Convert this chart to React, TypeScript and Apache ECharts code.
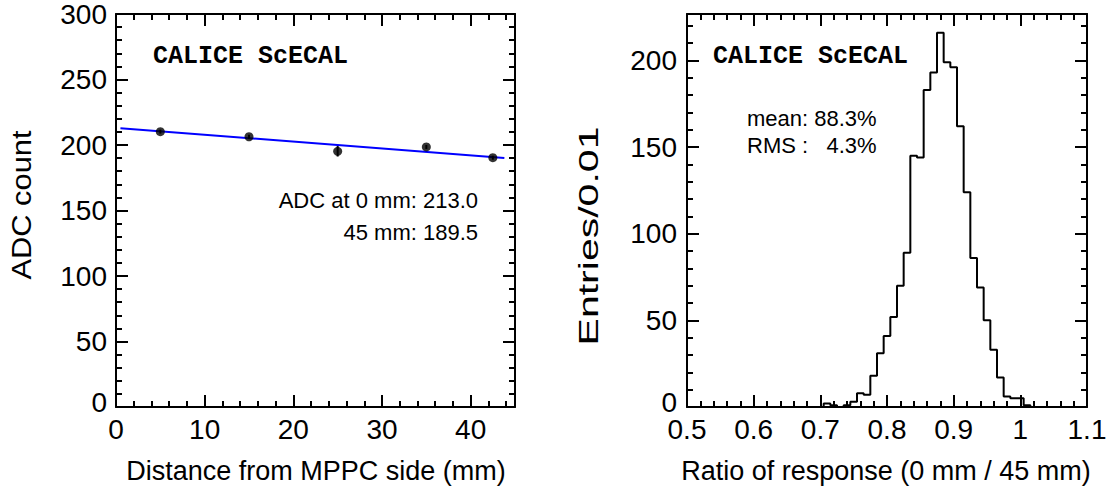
import React, { useEffect, useRef } from "react";
import * as echarts from "echarts";

// ---------- Data ----------
// Left panel: ADC count vs distance from MPPC side
const distances = [5, 15, 25, 35, 42.5];
const adcValues = [210.2, 206.3, 195.2, 198.5, 190.3];
const adcErrors = [1.5, 1.5, 4, 1.5, 1.5];
// Linear fit (from annotation): ADC at 0 mm = 213.0, at 45 mm = 189.5
const fitAt0 = 213.0;
const fitAt45 = 189.5;
const fitRange = [0.5, 43.8];

// Right panel: histogram of ratio of response, bins of 0.01 centred on these values
const ratioCenters = [0.70, 0.71, 0.72, 0.73, 0.74, 0.75, 0.76, 0.77, 0.78, 0.79, 0.80, 0.81, 0.82, 0.83, 0.84, 0.85, 0.86, 0.87, 0.88, 0.89, 0.90, 0.91, 0.92, 0.93, 0.94, 0.95, 0.96, 0.97, 0.98, 0.99, 1.00, 1.01, 1.02];
const ratioCounts = [0, 2, 1, 0, 1, 3, 8, 7, 18, 31, 41, 52, 70, 89, 145, 144, 183, 193, 216, 199, 196, 162, 124, 86, 69, 50, 33, 17, 6, 5, 5, 1, 0];
const binWidth = 0.01;

// Tick values
const leftXMajor = [0, 10, 20, 30, 40];
const leftXMinor = [2, 4, 6, 8, 12, 14, 16, 18, 22, 24, 26, 28, 32, 34, 36, 38, 42, 44];
const leftYMajor = [0, 50, 100, 150, 200, 250, 300];
const leftYMinor = [10, 20, 30, 40, 60, 70, 80, 90, 110, 120, 130, 140, 160, 170, 180, 190, 210, 220, 230, 240, 260, 270, 280, 290];
const rightXMajor = [0.5, 0.6, 0.7, 0.8, 0.9, 1, 1.1];
const rightXMinor = [0.52, 0.54, 0.56, 0.58, 0.62, 0.64, 0.66, 0.68, 0.72, 0.74, 0.76, 0.78, 0.82, 0.84, 0.86, 0.88, 0.92, 0.94, 0.96, 0.98, 1.02, 1.04, 1.06, 1.08];
const rightYMajor = [0, 50, 100, 150, 200];
const rightYMinor = [10, 20, 30, 40, 60, 70, 80, 90, 110, 120, 130, 140, 160, 170, 180, 190, 210, 220];

const FONT = '"Liberation Sans", Arial, Helvetica, sans-serif';
const MONO = '"Liberation Mono", "Courier New", monospace';

function makeAxes(
  kind: "x" | "y",
  gridIndex: number,
  min: number,
  max: number,
  major: number[],
  minor: number[],
  labelMargin: number
) {
  const posA = kind === "x" ? "bottom" : "left";
  const posB = kind === "x" ? "top" : "right";
  const base = (position: string, ticks: number[], len: number, showLine: boolean, showLabel: boolean) => ({
    type: "value",
    gridIndex,
    min,
    max,
    position,
    axisLine: { show: showLine, onZero: false, lineStyle: { color: "#000", width: 2 } },
    axisTick: { show: true, inside: true, length: len, customValues: ticks, lineStyle: { color: "#000", width: 2 } },
    axisLabel: {
      show: showLabel,
      customValues: major,
      margin: labelMargin,
      color: "#000",
      fontFamily: FONT,
      fontSize: 28,
      formatter:
        kind === "y"
          ? (v: number) => (v === 0 ? "{z|0}" : String(v))
          : (v: number) => String(v),
      rich: {
        z: { fontFamily: FONT, fontSize: 28, color: "#000", padding: [0, 0, 10, 0] },
      },
    },
    splitLine: { show: false },
    minorTick: { show: false },
  });
  return [
    base(posA, major, 12, true, true),
    base(posA, minor, 6, false, false),
    base(posB, major, 12, true, false),
    base(posB, minor, 6, false, false),
  ];
}

export default function App() {
  const ref = useRef<HTMLDivElement>(null);

  useEffect(() => {
    if (!ref.current) return;
    const chart = echarts.init(ref.current, undefined, { renderer: "svg" });

    const slope = (fitAt45 - fitAt0) / 45;
    const fitData = fitRange.map((x) => [x, fitAt0 + slope * x]);
    const scatterData = distances.map((d, i) => [d, adcValues[i]]);
    const errData = distances.map((d, i) => [d, adcValues[i], adcErrors[i]]);

    const histData: number[][] = ratioCenters.map((c, i) => [c - binWidth / 2, ratioCounts[i]]);
    const lastC = ratioCenters[ratioCenters.length - 1];
    histData.push([lastC + binWidth / 2, ratioCounts[ratioCounts.length - 1]]);

    const xAxes = [
      ...makeAxes("x", 0, 0, 45, leftXMajor, leftXMinor, 8),
      ...makeAxes("x", 1, 0.5, 1.1, rightXMajor, rightXMinor, 8),
    ];
    const yAxes = [
      ...makeAxes("y", 0, 0, 300, leftYMajor, leftYMinor, 9),
      ...makeAxes("y", 1, 0, 226.8, rightYMajor, rightYMinor, 10),
    ];

    const txt = (text: string, x: number, y: number, size: number, align: string, extra: any = {}) => {
      const { bold, mono, ...rest } = extra;
      return {
        type: "text",
        x,
        y,
        ...rest,
        style: {
          text,
          fill: "#000",
          font: `${bold ? "bold " : ""}${size}px ${mono ? MONO : FONT}`,
          align,
          verticalAlign: "middle",
        },
      };
    };

    chart.setOption({
      animation: false,
      backgroundColor: "#fff",
      grid: [
        { left: 116, top: 14, width: 399, height: 393, containLabel: false },
        { left: 687, top: 14, width: 400, height: 393, containLabel: false },
      ],
      xAxis: xAxes,
      yAxis: yAxes,
      series: [
        {
          type: "line",
          name: "fit",
          xAxisIndex: 0,
          yAxisIndex: 0,
          data: fitData,
          showSymbol: false,
          symbol: "none",
          lineStyle: { color: "#0000ff", width: 2 },
          z: 2,
        },
        {
          type: "custom",
          name: "errors",
          xAxisIndex: 0,
          yAxisIndex: 0,
          data: errData,
          renderItem: (params: any, api: any) => {
            const x = api.value(0);
            const y = api.value(1);
            const e = api.value(2);
            const p1 = api.coord([x, y - e]);
            const p2 = api.coord([x, y + e]);
            return {
              type: "line",
              shape: { x1: p1[0], y1: p1[1], x2: p2[0], y2: p2[1] },
              style: { stroke: "#000", lineWidth: 2 },
            };
          },
          z: 3,
        },
        {
          type: "scatter",
          name: "ADC",
          xAxisIndex: 0,
          yAxisIndex: 0,
          data: scatterData,
          symbol: "circle",
          symbolSize: 9,
          itemStyle: { color: "#000" },
          z: 4,
        },
        {
          type: "line",
          name: "ratio",
          xAxisIndex: 4,
          yAxisIndex: 4,
          data: histData,
          step: "end",
          showSymbol: false,
          symbol: "none",
          lineStyle: { color: "#000", width: 2 },
          z: 2,
        },
      ],
      graphic: [
        txt("ADC count", 21, 205, 28, "center", { rotation: Math.PI / 2, scaleX: 1.1 }),
        txt("Entries/0.01", 589, 236, 27, "center", { rotation: Math.PI / 2, scaleX: 1.52 }),
        txt("Distance from MPPC side (mm)", 316, 471, 27, "center"),
        txt("Ratio of response (0 mm / 45 mm)", 886, 471, 27, "center"),
        txt("CALICE ScECAL", 153, 56, 25, "left", { bold: true, mono: true }),
        txt("CALICE ScECAL", 713, 56, 25, "left", { bold: true, mono: true }),
        txt("ADC at 0 mm: 213.0", 478, 200, 22, "right"),
        txt("45 mm: 189.5", 478, 232, 22, "right"),
        txt("mean: 88.3%", 747, 118, 22, "left"),
        txt("RMS :   4.3%", 747, 145, 22, "left"),
      ],
    });

    return () => chart.dispose();
  }, []);

  return (
    <div
      ref={ref}
      style={{ position: "fixed", left: 0, top: 0, width: 1113, height: 491, background: "#fff" }}
    />
  );
}
